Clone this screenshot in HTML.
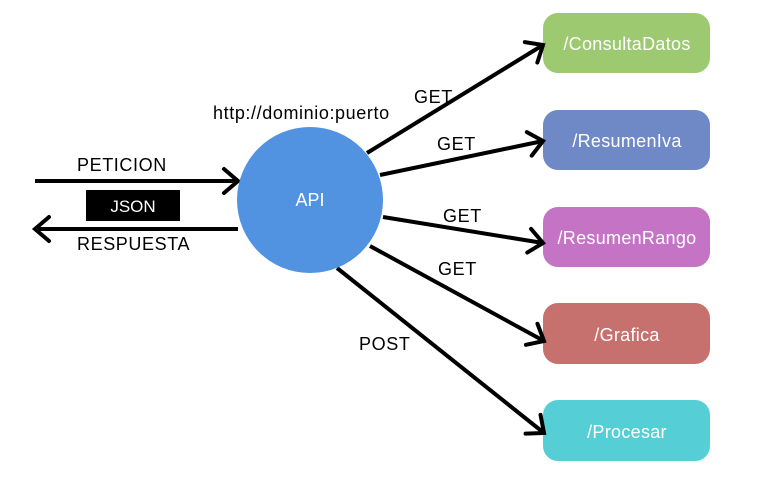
<!DOCTYPE html>
<html><head><meta charset="utf-8"><style>
html,body{margin:0;padding:0;background:#fff;}
svg text{font-family:"Liberation Sans",sans-serif;}
</style></head><body>
<svg width="767" height="483" viewBox="0 0 767 483" xmlns="http://www.w3.org/2000/svg">
<defs>
<marker id="a" markerUnits="userSpaceOnUse" markerWidth="30" markerHeight="30" refX="15" refY="15" orient="auto" overflow="visible">
<path d="M1,3 L15,15 L1,27" fill="none" stroke="#000" stroke-width="4" stroke-linecap="round" stroke-linejoin="miter"/>
</marker>
</defs>
<rect x="543" y="13" width="167" height="60" rx="15" fill="#9dc970"/>
<rect x="543" y="110" width="167" height="60" rx="15" fill="#6f89c7"/>
<rect x="543" y="207" width="167" height="60" rx="15" fill="#c473c5"/>
<rect x="543" y="303" width="167" height="61" rx="15" fill="#c6716d"/>
<rect x="543" y="400" width="167" height="61" rx="15" fill="#56ced6"/>
<g fill="#fff" font-size="18" text-anchor="middle" letter-spacing="0.3">
<text x="627" y="50">/ConsultaDatos</text>
<text x="627" y="147">/ResumenIva</text>
<text x="627" y="244">/ResumenRango</text>
<text x="627" y="341">/Grafica</text>
<text x="627" y="438">/Procesar</text>
</g>
<g stroke="#000" stroke-width="4" fill="none" marker-end="url(#a)">
<line x1="367" y1="153" x2="543" y2="45"/>
<line x1="380" y1="175" x2="543" y2="141"/>
<line x1="383" y1="217" x2="543" y2="243"/>
<line x1="370" y1="246" x2="544" y2="341"/>
<line x1="337" y1="268" x2="544" y2="433"/>
<line x1="35" y1="181" x2="238" y2="181"/>
<line x1="238" y1="229" x2="35" y2="229"/>
</g>
<circle cx="310" cy="200" r="73" fill="#5193e0"/>
<text x="310" y="206" fill="#fff" font-size="18" text-anchor="middle">API</text>
<rect x="86" y="190" width="94" height="31" fill="#000"/>
<text x="133" y="212" fill="#fff" font-size="17" text-anchor="middle">JSON</text>
<g fill="#000" font-size="18" letter-spacing="0.6">
<text x="213" y="119">http://dominio:puerto</text>
<text x="77" y="171">PETICION</text>
<text x="77" y="250">RESPUESTA</text>
<text x="414" y="103">GET</text>
<text x="437" y="150">GET</text>
<text x="443" y="222">GET</text>
<text x="438" y="275">GET</text>
<text x="359" y="350">POST</text>
</g>
</svg>
</body></html>
